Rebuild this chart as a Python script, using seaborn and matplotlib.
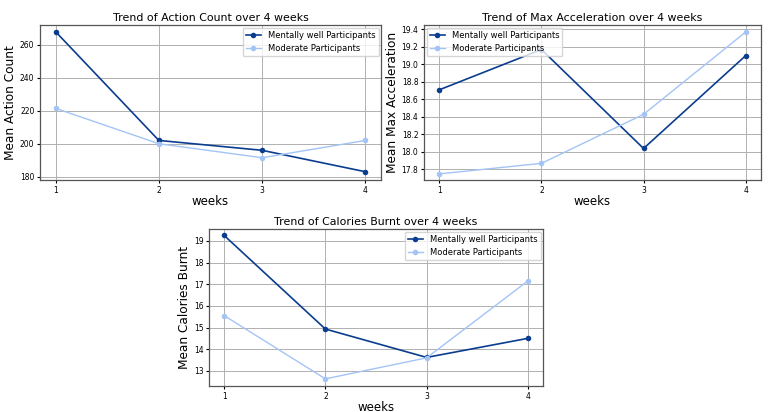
import matplotlib
matplotlib.use("Agg")
import matplotlib.pyplot as plt
import seaborn as sns
import pandas as pd

weeks = [1, 2, 3, 4]
groups = ["Mentally well Participants", "Moderate Participants"]

action_well = [268.0, 202.0, 196.0, 183.0]
action_moderate = [221.5, 200.0, 191.5, 202.0]

accel_well = [18.71, 19.17, 18.04, 19.10]
accel_moderate = [17.75, 17.87, 18.43, 19.37]

calories_well = [19.25, 14.93, 13.62, 14.50]
calories_moderate = [15.55, 12.63, 13.60, 17.15]

colors = {"Mentally well Participants": "#0b3d8f", "Moderate Participants": "#a3c4f5"}
widths = {"Mentally well Participants": 1.2, "Moderate Participants": 1.0}


def make_df(well, moderate):
    return pd.DataFrame({
        "weeks": weeks * 2,
        "value": well + moderate,
        "group": [groups[0]] * 4 + [groups[1]] * 4,
    })


def draw(ax, well, moderate, title, ylabel, legend_loc):
    df = make_df(well, moderate)
    for g in groups:
        sub = df[df["group"] == g]
        sns.lineplot(data=sub, x="weeks", y="value", ax=ax, color=colors[g],
                     marker="o", markersize=4, markeredgewidth=0,
                     linewidth=widths[g], label=g)
    ax.set_title(title, fontsize=7.9, pad=3)
    ax.set_xlabel("weeks", fontsize=8.5, labelpad=0)
    ax.set_ylabel(ylabel, fontsize=8.7, labelpad=2)
    ax.set_xticks(weeks)
    ax.tick_params(labelsize=5.5, length=2, pad=2)
    ax.grid(True, color="#b0b0b0", linewidth=0.7)
    ax.legend(loc=legend_loc, fontsize=6, borderaxespad=0.3, handlelength=1.8)
    for s in ax.spines.values():
        s.set_color("#555555")
        s.set_linewidth(0.9)


fig = plt.figure(figsize=(7.68, 4.12), dpi=100)
ax1 = fig.add_axes([40 / 768, 1 - 180 / 412, 341 / 768, 155 / 412])
ax2 = fig.add_axes([424 / 768, 1 - 180 / 412, 337 / 768, 155 / 412])
ax3 = fig.add_axes([209 / 768, 1 - 386 / 412, 334 / 768, 157 / 412])

draw(ax1, action_well, action_moderate, "Trend of Action Count over 4 weeks",
     "Mean Action Count", "upper right")
ax1.set_ylim(178, 272)
ax1.set_yticks([180, 200, 220, 240, 260])

draw(ax2, accel_well, accel_moderate, "Trend of Max Acceleration over 4 weeks",
     "Mean Max Acceleration", "upper left")
ax2.set_ylim(17.68, 19.45)
ax2.set_yticks([17.8, 18.0, 18.2, 18.4, 18.6, 18.8, 19.0, 19.2, 19.4])

draw(ax3, calories_well, calories_moderate, "Trend of Calories Burnt over 4 weeks",
     "Mean Calories Burnt", "upper right")
ax3.set_ylim(12.3, 19.55)
ax3.set_yticks([13, 14, 15, 16, 17, 18, 19])

fig.savefig("out.png", dpi=100)
